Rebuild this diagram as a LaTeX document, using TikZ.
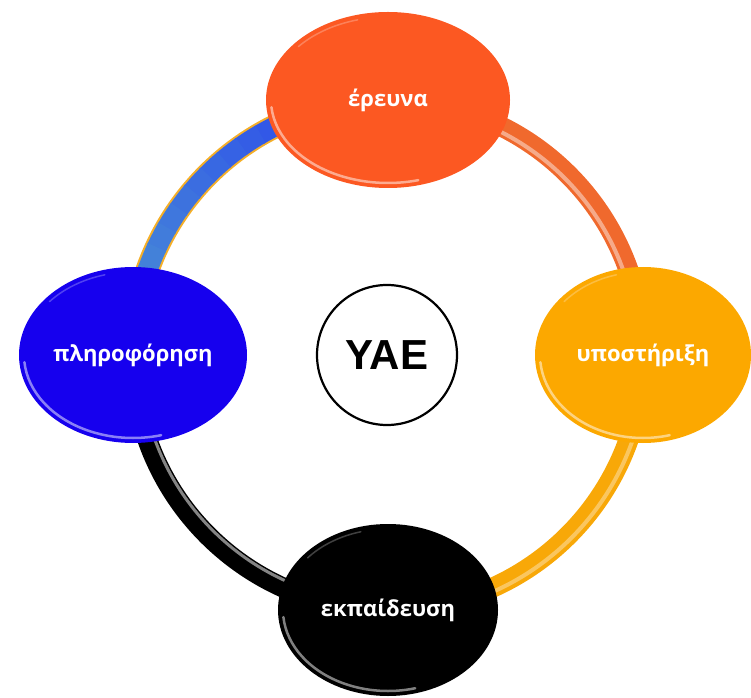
\documentclass[tikz,border=0pt]{standalone}
\usepackage{fontspec}
\setmainfont{Open Sans}
\newfontfamily\yaefont{Liberation Sans}
\usetikzlibrary{shapes.geometric,calc}
\definecolor{cOrange}{RGB}{252,88,34}
\definecolor{cBlue}{RGB}{22,0,238}
\definecolor{cAmber}{RGB}{252,168,0}
\definecolor{cArcBlueA}{RGB}{40,62,240}
\definecolor{cArcBlueB}{RGB}{75,150,210}
\definecolor{cArcOr}{RGB}{240,105,45}
\definecolor{cArcYel}{RGB}{248,168,8}
\definecolor{cRimGold}{RGB}{245,175,40}
\pgfdeclarelayer{bg}
\pgfsetlayers{bg,main}
\tikzset{
  bubble/.style={ellipse, inner sep=0pt, text=white, font=\bfseries\fontsize{22}{24}\selectfont},
  ringarc/.style={line width=20pt, line cap=butt},
  rim/.style={white, opacity=0.5, line width=2.5pt, line cap=round},
  hub/.style={circle, draw=black, line width=2.2pt, fill=white, minimum size=140pt, inner sep=0pt,
              font=\yaefont\bfseries\fontsize{42}{44}\selectfont}
}
\newcommand\glossrim[3]{%
  \draw[rim] ($(#1.center)+(185:#2 and #3)$) arc[start angle=185,end angle=285,x radius=#2,y radius=#3];
  \draw[white,opacity=0.25,line width=1.5pt,line cap=round] ($(#1.center)+(105:#2 and #3)$) arc[start angle=105,end angle=140,x radius=#2,y radius=#3];
}
\begin{document}
\begin{tikzpicture}[x=1pt,y=1pt]
\useasboundingbox (0,0) rectangle (751,697);
\coordinate (ring) at (388,342);

\node[bubble, fill=cOrange, minimum width=244pt, minimum height=176pt] (eres) at (388,597) {έρευνα};
\node[bubble, fill=cBlue, minimum width=228pt, minimum height=176pt] (info) at (133,342) {πληροφόρηση};
\node[bubble, fill=cAmber, minimum width=216pt, minimum height=176pt] (supp) at (643,342) {υποστήριξη};
\node[bubble, fill=black, minimum width=220pt, minimum height=172pt] (edu) at (388,87) {εκπαίδευση};
\node[hub] (yae) at (387,342) {YAE};

\glossrim{eres}{117}{83}
\glossrim{info}{109}{83}
\glossrim{supp}{103}{83}
\glossrim{edu}{105}{81}

\begin{pgfonlayer}{bg}
  % blue arc (top-left) with golden rims
  \draw[ringarc, line width=24pt, cRimGold] (eres.center) arc[start angle=90,end angle=180,radius=255];
  \foreach \i in {0,...,17}{
    \pgfmathsetmacro\mix{100-\i*100/17}
    \draw[line width=20pt, line cap=butt, cArcBlueA!\mix!cArcBlueB]
      ($(ring)+({90+5*\i}:255)$) arc[start angle={90+5*\i}, end angle={90+5*\i+5.4}, radius=255];
  }
  % orange arc (top-right)
  \draw[ringarc, cArcOr] (eres.center) arc[start angle=90,end angle=0,radius=255];
  \draw[line width=4pt, cArcOr!45!white, opacity=0.8] ($(ring)+(88:250)$) arc[start angle=88,end angle=5,radius=250];
  % amber arc (bottom-right)
  \draw[ringarc, cArcYel] (supp.center) arc[start angle=0,end angle=-90,radius=255];
  \draw[line width=4pt, cArcYel!50!white, opacity=0.7] ($(ring)+(-3:259)$) arc[start angle=-3,end angle=-85,radius=259];
  % black arc (bottom-left)
  \draw[ringarc, black] (info.center) arc[start angle=180,end angle=270,radius=255];
  \draw[line width=3pt, gray!70, opacity=0.8] ($(ring)+(185:248)$) arc[start angle=185,end angle=265,radius=248];
\end{pgfonlayer}
\end{tikzpicture}
\end{document}
